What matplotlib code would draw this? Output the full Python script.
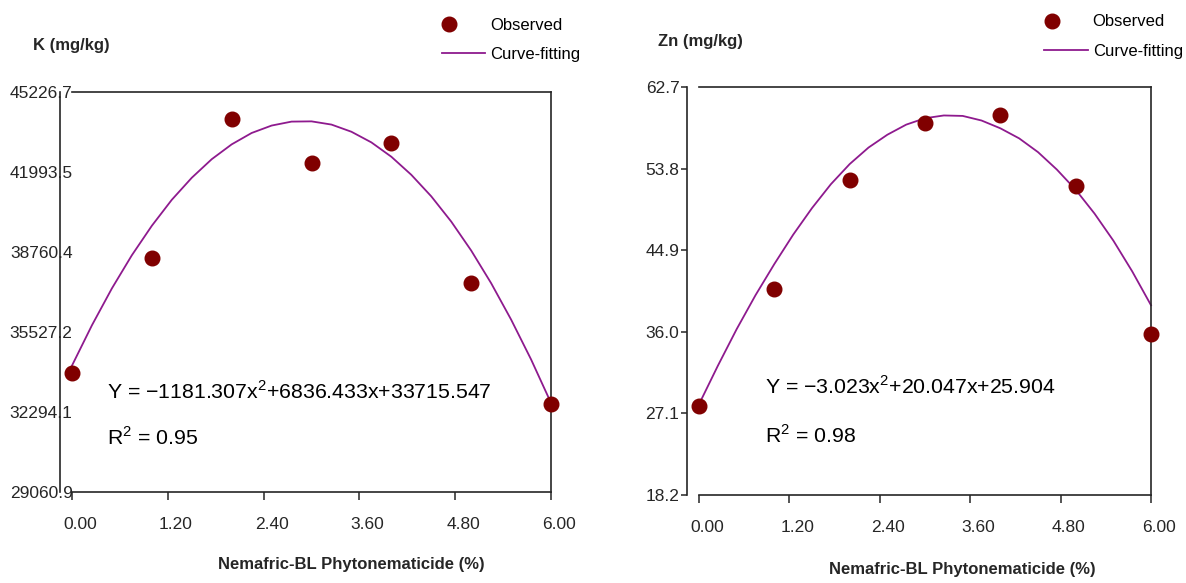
# -*- coding: utf-8 -*-
# Curvas quadráticas: K e Zn vs. dose de Nemafric-BL
import matplotlib
matplotlib.use('Agg')
import matplotlib.pyplot as plt
from matplotlib.lines import Line2D
from matplotlib.legend_handler import HandlerLine2D
from matplotlib.transforms import ScaledTranslation

#####################################################################
# DADOS
DOSES = [0, 1, 2, 3, 4, 5, 6]
K_OBS = [33870, 38530, 44150, 42370, 43180, 37520, 32610]
ZN_OBS = [27.9, 40.69, 52.58, 58.77, 59.68, 51.93, 35.8]

# curva ajustada, lida no desenho a cada 0.25
X_CURVA = [0, 0.25, 0.5, 0.75, 1, 1.25, 1.5, 1.75, 2, 2.25, 2.5, 2.75, 3,
           3.25, 3.5, 3.75, 4, 4.25, 4.5, 4.75, 5, 5.25, 5.5, 5.75, 6]
K_CURVA = [34170, 35800, 37290, 38630, 39820, 40870, 41760, 42510, 43110,
           43570, 43870, 44030, 44040, 43910, 43620, 43190, 42610, 41880,
           41010, 39990, 38820, 37500, 36030, 34420, 32660]
ZN_CURVA = [28.1, 32.3, 36.3, 40.0, 43.4, 46.6, 49.5, 52.1, 54.3, 56.1,
            57.5, 58.6, 59.3, 59.6, 59.55, 59.05, 58.2, 57.1, 55.6, 53.7,
            51.5, 48.9, 45.95, 42.6, 38.9]

X_TICKS = [0.00, 1.20, 2.40, 3.60, 4.80, 6.00]
K_TICKS = [29060.9, 32294.1, 35527.2, 38760.4, 41993.5, 45226.7]
ZN_TICKS = [18.2, 27.1, 36.0, 44.9, 53.8, 62.7]

EQ_K = 'Y = \u22121181.307x$^{2}$+6836.433x+33715.547'
R2_K = 'R$^{2}$ = 0.95'
EQ_ZN = 'Y = \u22123.023x$^{2}$+20.047x+25.904'
R2_ZN = 'R$^{2}$ = 0.98'

#####################################################################
# CONSTANTES DE ESTILO
VINHO = '#800000'
ROXO = '#8e1a8e'
CINZA = '#262626'
TAM = 12.5      # rótulos dos eixos
TAM_EQ = 15.3   # equações

plt.rcParams['font.family'] = ['Liberation Sans', 'DejaVu Sans']
plt.rcParams['mathtext.fontset'] = 'custom'
plt.rcParams['mathtext.rm'] = 'Liberation Sans'


#####################################################################
class MarcadorEsquerda(HandlerLine2D):
    '''põe o marcador da legenda perto da borda esquerda'''
    def create_artists(self, legend, orig_handle, xdescent, ydescent,
                       width, height, fontsize, trans):
        artistas = super().create_artists(legend, orig_handle, xdescent,
                                          ydescent, width, height,
                                          fontsize, trans)
        x = -xdescent + 0.45 * fontsize
        for a in artistas:
            a.set_xdata([x] * len(a.get_xdata()))
        return artistas


def painel(fig, ax, y_obs, y_curva, yticks, rotulos_sobre_eixo):
    '''desenha um painel no estilo SigmaPlot'''
    ax.plot(X_CURVA, y_curva, color=ROXO, linewidth=1.3, clip_on=False, zorder=2)
    ax.plot(DOSES, y_obs, linestyle='none', marker='o', color=VINHO,
            markersize=10.5, clip_on=False, zorder=3)

    ax.set_xlim(0, 6)
    ax.set_ylim(yticks[0], yticks[-1])

    ax.set_xticks(X_TICKS)
    ax.set_xticklabels(['%.2f' % v for v in X_TICKS])
    ax.set_yticks(yticks)
    ax.set_yticklabels(['%.1f' % v for v in yticks])

    # eixo y deslocado para fora, como no original
    ax.spines['left'].set_position(('outward', 8.6))
    for lado in ['left', 'right', 'top', 'bottom']:
        ax.spines[lado].set_linewidth(1.2)
        ax.spines[lado].set_color(CINZA)

    ax.xaxis.set_ticks_position('bottom')
    ax.yaxis.set_ticks_position('left')
    ax.tick_params(axis='x', direction='out', length=6, width=1.1,
                   pad=12, labelsize=TAM, colors=CINZA)
    if rotulos_sobre_eixo:
        ax.tick_params(axis='y', length=0, pad=-9, labelsize=TAM, colors=CINZA)
    else:
        ax.tick_params(axis='y', direction='out', length=4, width=1.1,
                       pad=1.5, labelsize=TAM, colors=CINZA)

    # no original os números do eixo x ficam um pouco à direita do tick
    desloca = ScaledTranslation(8 / 100, 0, fig.dpi_scale_trans)
    for rot in ax.get_xticklabels():
        rot.set_transform(rot.get_transform() + desloca)


def legenda(fig, x, y):
    h_obs = Line2D([], [], linestyle='none', marker='o', color=VINHO,
                   markersize=10.5)
    h_fit = Line2D([], [], color=ROXO, linewidth=1.3)
    fig.legend([h_obs, h_fit], ['Observed', 'Curve-fitting'], loc='center',
               bbox_to_anchor=(x, y), bbox_transform=fig.transFigure,
               frameon=False, fontsize=12, handlelength=2.6, numpoints=1,
               handletextpad=0.3, labelspacing=0.85, borderpad=0,
               handler_map={h_obs: MarcadorEsquerda()})


#####################################################################
fig = plt.figure(figsize=(11.86, 5.83), dpi=100)

ax1 = fig.add_axes([0.0607, 0.1561, 0.4039, 0.6861])
painel(fig, ax1, K_OBS, K_CURVA, K_TICKS, True)
ax1.text(0.073, 0.25, EQ_K, transform=ax1.transAxes, fontsize=TAM_EQ,
         va='center', color='black')
ax1.text(0.073, 0.135, R2_K, transform=ax1.transAxes, fontsize=TAM_EQ,
         va='center', color='black')

ax2 = fig.add_axes([0.5894, 0.1509, 0.3811, 0.6998])
painel(fig, ax2, ZN_OBS, ZN_CURVA, ZN_TICKS, False)
ax2.text(0.146, 0.265, EQ_ZN, transform=ax2.transAxes, fontsize=TAM_EQ,
         va='center', color='black')
ax2.text(0.146, 0.145, R2_ZN, transform=ax2.transAxes, fontsize=TAM_EQ,
         va='center', color='black')

# titulos dos eixos
fig.text(0.0278, 0.9228, 'K (mg/kg)', fontsize=12, fontweight='bold',
         va='center', color=CINZA)
fig.text(0.5548, 0.928, 'Zn (mg/kg)', fontsize=12, fontweight='bold',
         va='center', color=CINZA)
fig.text(0.296, 0.031, 'Nemafric-BL Phytonematicide (%)', fontsize=12,
         fontweight='bold', ha='center', va='center', color=CINZA)
fig.text(0.811, 0.0223, 'Nemafric-BL Phytonematicide (%)', fontsize=12,
         fontweight='bold', ha='center', va='center', color=CINZA)

legenda(fig, 0.4309, 0.9314)
legenda(fig, 0.9389, 0.9374)

fig.savefig('out.png', dpi=100)
